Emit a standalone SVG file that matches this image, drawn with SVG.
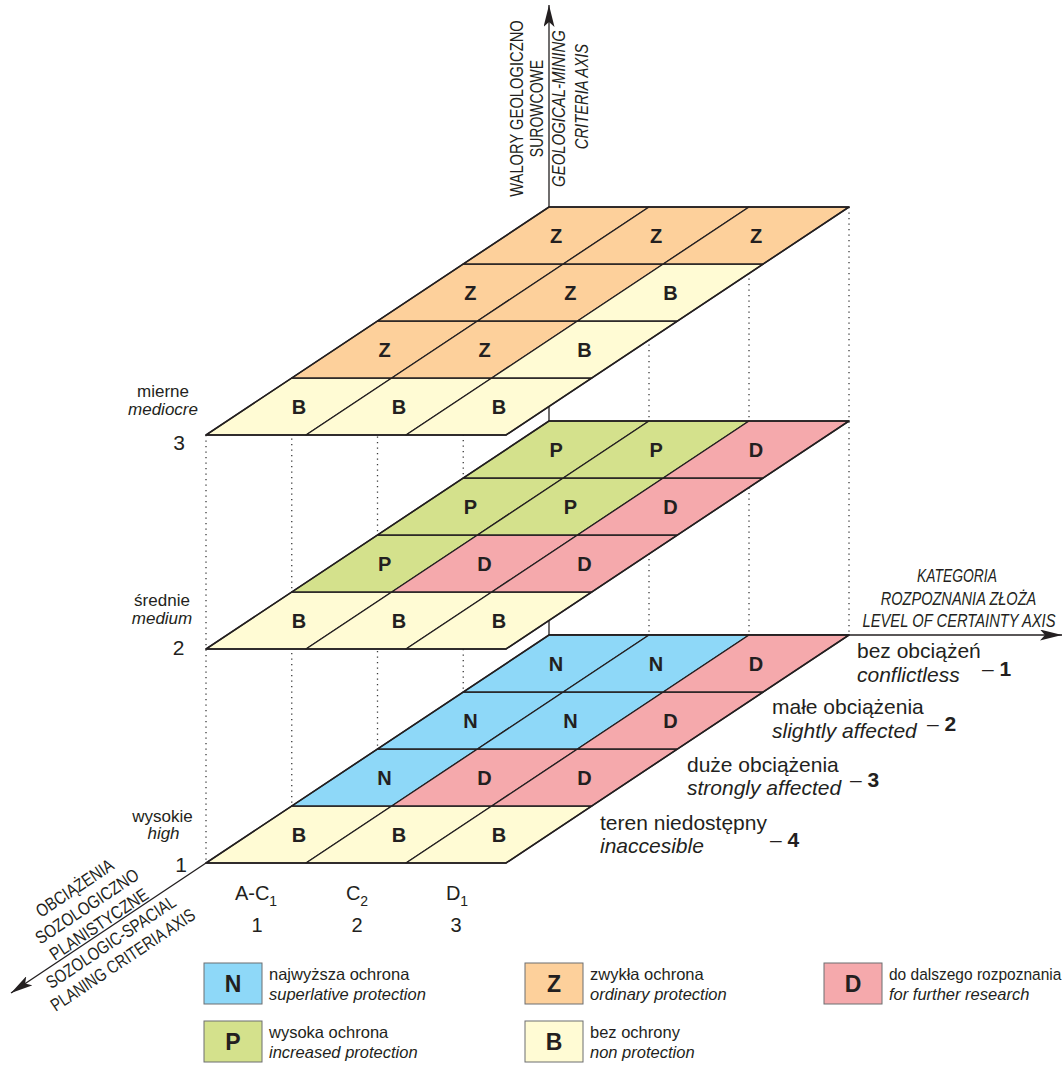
<svg xmlns="http://www.w3.org/2000/svg" width="1063" height="1068" viewBox="0 0 1063 1068">
<defs>
<style>
.t{font-family:"Liberation Sans",Arial,sans-serif;fill:#231f20}
.n{font-family:"Liberation Sans",Arial,sans-serif;fill:#231f20;text-anchor:middle}
.it{font-style:italic}
.ax{font-size:18px}
.lv{font-size:17px;text-anchor:middle}
.num{font-size:21px;text-anchor:middle}
.rl{font-size:21px}
.lg{font-size:16.5px}
.cl{font-size:20px;text-anchor:middle}
.let{font-family:"Liberation Sans",Arial,sans-serif;font-weight:bold;font-size:20px;text-anchor:middle;fill:#231f20}
.big{font-size:23px}
.cell polygon{stroke:#231f20;stroke-width:1.3;stroke-linejoin:round}
.edge{fill:none;stroke:#231f20;stroke-width:1.6;stroke-linejoin:round}
.cN{fill:#8ED8F8}.cZ{fill:#FDD09B}.cD{fill:#F5A9AC}.cP{fill:#D4E18C}.cB{fill:#FFFBD4}
.axis{stroke:#231f20;stroke-width:1.3;fill:none}
.dot{stroke:#3a3a3a;stroke-width:1.3;stroke-dasharray:1.3 4.2;fill:none}
.box{stroke:#6d6e71;stroke-width:1}
</style>
<marker id="arr" markerUnits="userSpaceOnUse" markerWidth="22" markerHeight="11" viewBox="0 0 22 11" refX="22" refY="5.5" orient="auto">
<path d="M0,0 L22,5.5 L0,11 L5,5.5 Z" fill="#231f20"/>
</marker>
</defs>
<rect width="1063" height="1068" fill="#ffffff"/>

<g id="connectors">
<line class="dot" x1="206" y1="435" x2="206" y2="863"/>
<line class="dot" x1="291.75" y1="378" x2="291.75" y2="806"/>
<line class="dot" x1="377.5" y1="321" x2="377.5" y2="749"/>
<line class="dot" x1="463.25" y1="264" x2="463.25" y2="692"/>
<line class="dot" x1="649" y1="207" x2="649" y2="635"/>
<line class="dot" x1="749" y1="207" x2="749" y2="635"/>
<line class="dot" x1="849" y1="207" x2="849" y2="635"/>
<line class="axis" x1="549" y1="635" x2="549" y2="5" marker-end="url(#arr)"/>
<line class="axis" x1="549" y1="635" x2="1062" y2="635" marker-end="url(#arr)"/>
<line class="axis" x1="206" y1="863" x2="11" y2="993" marker-end="url(#arr)"/>
</g>

<g id="level1">
<g class="cell" id="l1-r0c0"><polygon class="cB" points="206,863 306,863 391.75,806 291.75,806"/><text class="let" x="298.9" y="841.5">B</text></g>
<g class="cell" id="l1-r0c1"><polygon class="cB" points="306,863 406,863 491.75,806 391.75,806"/><text class="let" x="398.9" y="841.5">B</text></g>
<g class="cell" id="l1-r0c2"><polygon class="cB" points="406,863 506,863 591.75,806 491.75,806"/><text class="let" x="498.9" y="841.5">B</text></g>
<g class="cell" id="l1-r1c0"><polygon class="cN" points="291.75,806 391.75,806 477.5,749 377.5,749"/><text class="let" x="384.6" y="784.5">N</text></g>
<g class="cell" id="l1-r1c1"><polygon class="cD" points="391.75,806 491.75,806 577.5,749 477.5,749"/><text class="let" x="484.6" y="784.5">D</text></g>
<g class="cell" id="l1-r1c2"><polygon class="cD" points="491.75,806 591.75,806 677.5,749 577.5,749"/><text class="let" x="584.6" y="784.5">D</text></g>
<g class="cell" id="l1-r2c0"><polygon class="cN" points="377.5,749 477.5,749 563.25,692 463.25,692"/><text class="let" x="470.4" y="727.5">N</text></g>
<g class="cell" id="l1-r2c1"><polygon class="cN" points="477.5,749 577.5,749 663.25,692 563.25,692"/><text class="let" x="570.4" y="727.5">N</text></g>
<g class="cell" id="l1-r2c2"><polygon class="cD" points="577.5,749 677.5,749 763.25,692 663.25,692"/><text class="let" x="670.4" y="727.5">D</text></g>
<g class="cell" id="l1-r3c0"><polygon class="cN" points="463.25,692 563.25,692 649,635 549,635"/><text class="let" x="556.1" y="670.5">N</text></g>
<g class="cell" id="l1-r3c1"><polygon class="cN" points="563.25,692 663.25,692 749,635 649,635"/><text class="let" x="656.1" y="670.5">N</text></g>
<g class="cell" id="l1-r3c2"><polygon class="cD" points="663.25,692 763.25,692 849,635 749,635"/><text class="let" x="756.1" y="670.5">D</text></g>
<polygon class="edge" points="206,863 506,863 849,635 549,635"/>
</g>

<g id="level2" transform="translate(0,-214)">
<g class="cell" id="l2-r0c0"><polygon class="cB" points="206,863 306,863 391.75,806 291.75,806"/><text class="let" x="298.9" y="841.5">B</text></g>
<g class="cell" id="l2-r0c1"><polygon class="cB" points="306,863 406,863 491.75,806 391.75,806"/><text class="let" x="398.9" y="841.5">B</text></g>
<g class="cell" id="l2-r0c2"><polygon class="cB" points="406,863 506,863 591.75,806 491.75,806"/><text class="let" x="498.9" y="841.5">B</text></g>
<g class="cell" id="l2-r1c0"><polygon class="cP" points="291.75,806 391.75,806 477.5,749 377.5,749"/><text class="let" x="384.6" y="784.5">P</text></g>
<g class="cell" id="l2-r1c1"><polygon class="cD" points="391.75,806 491.75,806 577.5,749 477.5,749"/><text class="let" x="484.6" y="784.5">D</text></g>
<g class="cell" id="l2-r1c2"><polygon class="cD" points="491.75,806 591.75,806 677.5,749 577.5,749"/><text class="let" x="584.6" y="784.5">D</text></g>
<g class="cell" id="l2-r2c0"><polygon class="cP" points="377.5,749 477.5,749 563.25,692 463.25,692"/><text class="let" x="470.4" y="727.5">P</text></g>
<g class="cell" id="l2-r2c1"><polygon class="cP" points="477.5,749 577.5,749 663.25,692 563.25,692"/><text class="let" x="570.4" y="727.5">P</text></g>
<g class="cell" id="l2-r2c2"><polygon class="cD" points="577.5,749 677.5,749 763.25,692 663.25,692"/><text class="let" x="670.4" y="727.5">D</text></g>
<g class="cell" id="l2-r3c0"><polygon class="cP" points="463.25,692 563.25,692 649,635 549,635"/><text class="let" x="556.1" y="670.5">P</text></g>
<g class="cell" id="l2-r3c1"><polygon class="cP" points="563.25,692 663.25,692 749,635 649,635"/><text class="let" x="656.1" y="670.5">P</text></g>
<g class="cell" id="l2-r3c2"><polygon class="cD" points="663.25,692 763.25,692 849,635 749,635"/><text class="let" x="756.1" y="670.5">D</text></g>
<polygon class="edge" points="206,863 506,863 849,635 549,635"/>
</g>

<g id="level3" transform="translate(0,-428)">
<g class="cell" id="l3-r0c0"><polygon class="cB" points="206,863 306,863 391.75,806 291.75,806"/><text class="let" x="298.9" y="841.5">B</text></g>
<g class="cell" id="l3-r0c1"><polygon class="cB" points="306,863 406,863 491.75,806 391.75,806"/><text class="let" x="398.9" y="841.5">B</text></g>
<g class="cell" id="l3-r0c2"><polygon class="cB" points="406,863 506,863 591.75,806 491.75,806"/><text class="let" x="498.9" y="841.5">B</text></g>
<g class="cell" id="l3-r1c0"><polygon class="cZ" points="291.75,806 391.75,806 477.5,749 377.5,749"/><text class="let" x="384.6" y="784.5">Z</text></g>
<g class="cell" id="l3-r1c1"><polygon class="cZ" points="391.75,806 491.75,806 577.5,749 477.5,749"/><text class="let" x="484.6" y="784.5">Z</text></g>
<g class="cell" id="l3-r1c2"><polygon class="cB" points="491.75,806 591.75,806 677.5,749 577.5,749"/><text class="let" x="584.6" y="784.5">B</text></g>
<g class="cell" id="l3-r2c0"><polygon class="cZ" points="377.5,749 477.5,749 563.25,692 463.25,692"/><text class="let" x="470.4" y="727.5">Z</text></g>
<g class="cell" id="l3-r2c1"><polygon class="cZ" points="477.5,749 577.5,749 663.25,692 563.25,692"/><text class="let" x="570.4" y="727.5">Z</text></g>
<g class="cell" id="l3-r2c2"><polygon class="cB" points="577.5,749 677.5,749 763.25,692 663.25,692"/><text class="let" x="670.4" y="727.5">B</text></g>
<g class="cell" id="l3-r3c0"><polygon class="cZ" points="463.25,692 563.25,692 649,635 549,635"/><text class="let" x="556.1" y="670.5">Z</text></g>
<g class="cell" id="l3-r3c1"><polygon class="cZ" points="563.25,692 663.25,692 749,635 649,635"/><text class="let" x="656.1" y="670.5">Z</text></g>
<g class="cell" id="l3-r3c2"><polygon class="cZ" points="663.25,692 763.25,692 849,635 749,635"/><text class="let" x="756.1" y="670.5">Z</text></g>
<polygon class="edge" points="206,863 506,863 849,635 549,635"/>
</g>

<g id="axis-labels">
<text class="n ax" transform="translate(523,108.5) rotate(-90) scale(0.82,1)">WALORY GEOLOGICZNO</text>
<text class="n ax" transform="translate(543,108.5) rotate(-90) scale(0.78,1)">SUROWCOWE</text>
<text class="n ax it" transform="translate(565,108.5) rotate(-90) scale(0.83,1)">GEOLOGICAL-MINING</text>
<text class="n ax it" transform="translate(588,96.5) rotate(-90) scale(0.82,1)">CRITERIA AXIS</text>

<text class="n ax it" transform="translate(957,582) scale(0.77,1)">KATEGORIA</text>
<text class="n ax it" transform="translate(958.5,605) scale(0.81,1)">ROZPOZNANIA ZŁOŻA</text>
<text class="n ax it" transform="translate(959,627) scale(0.82,1)">LEVEL OF CERTAINTY AXIS</text>

<g transform="translate(206,863) rotate(-33.75)">
<text class="n ax" transform="translate(-123,-46) scale(0.82,1)">OBCIĄŻENIA</text>
<text class="n ax" transform="translate(-123,-24) scale(0.83,1)">SOZOLOGICZNO</text>
<text class="n ax" transform="translate(-123,-2.5) scale(0.84,1)">PLANISTYCZNE</text>
<text class="n ax" transform="translate(-123,19) scale(0.81,1)">SOZOLOGIC-SPACIAL</text>
<text class="n ax" transform="translate(-123,40.5) scale(0.8,1)">PLANING CRITERIA AXIS</text>
</g>
</g>

<g id="level-labels">
<text class="t lv" x="163" y="397">mierne</text>
<text class="t lv it" x="163" y="415">mediocre</text>
<text class="t num" x="179" y="450">3</text>
<text class="t lv" x="162" y="606">średnie</text>
<text class="t lv it" x="162" y="624">medium</text>
<text class="t num" x="178.5" y="655">2</text>
<text class="t lv" x="162.5" y="822">wysokie</text>
<text class="t lv it" x="163.5" y="839">high</text>
<text class="t num" x="181" y="872">1</text>
</g>

<g id="column-labels">
<text class="t cl" x="256" y="900">A-C<tspan font-size="14" dy="6">1</tspan></text>
<text class="t cl" x="357" y="900">C<tspan font-size="14" dy="6">2</tspan></text>
<text class="t cl" x="457" y="900">D<tspan font-size="14" dy="6">1</tspan></text>
<text class="t cl" x="257" y="932">1</text>
<text class="t cl" x="357" y="932">2</text>
<text class="t cl" x="456" y="932">3</text>
</g>

<g id="row-labels">
<text class="t rl" x="857" y="658">bez obciążeń</text>
<text class="t rl it" x="857" y="682">conflictless</text>
<text class="t rl" x="982" y="676">– <tspan font-weight="bold">1</tspan></text>
<text class="t rl" x="772" y="714">małe obciążenia</text>
<text class="t rl it" x="772" y="738">slightly affected</text>
<text class="t rl" x="927" y="731">– <tspan font-weight="bold">2</tspan></text>
<text class="t rl" x="687" y="772">duże obciążenia</text>
<text class="t rl it" x="687" y="795">strongly affected</text>
<text class="t rl" x="850" y="787">– <tspan font-weight="bold">3</tspan></text>
<text class="t rl" x="600" y="830">teren niedostępny</text>
<text class="t rl it" x="600" y="853">inaccesible</text>
<text class="t rl" x="770" y="847">– <tspan font-weight="bold">4</tspan></text>
</g>

<g id="legend">
<g id="leg-N"><rect class="box cN" x="204" y="963" width="58" height="41"/><text class="let big" x="233" y="992">N</text>
<text class="t lg" x="269" y="980">najwyższa ochrona</text><text class="t lg it" x="269" y="1000">superlative protection</text></g>
<g id="leg-Z"><rect class="box cZ" x="525" y="963" width="58" height="41"/><text class="let big" x="554" y="992">Z</text>
<text class="t lg" x="590" y="980">zwykła ochrona</text><text class="t lg it" x="590" y="1000">ordinary protection</text></g>
<g id="leg-D"><rect class="box cD" x="824" y="963" width="58" height="41"/><text class="let big" x="853" y="992">D</text>
<text class="t lg" transform="translate(889,980) scale(0.94,1)">do dalszego rozpoznania</text><text class="t lg it" x="889" y="1000">for further research</text></g>
<g id="leg-P"><rect class="box cP" x="204" y="1021" width="58" height="41"/><text class="let big" x="233" y="1050">P</text>
<text class="t lg" x="269" y="1038">wysoka ochrona</text><text class="t lg it" x="269" y="1058">increased protection</text></g>
<g id="leg-B"><rect class="box cB" x="525" y="1021" width="58" height="41"/><text class="let big" x="554" y="1050">B</text>
<text class="t lg" x="590" y="1038">bez ochrony</text><text class="t lg it" x="590" y="1058">non protection</text></g>
</g>
</svg>
